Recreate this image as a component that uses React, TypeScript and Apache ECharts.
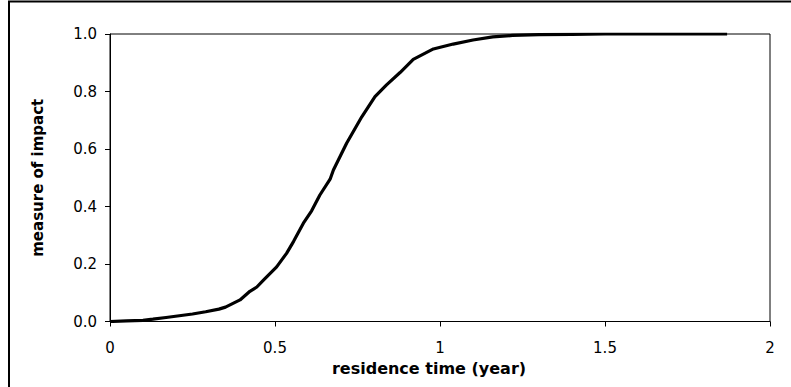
import React, { useEffect, useRef } from "react";
import * as echarts from "echarts";

const residenceTime = [
  0, 0.05, 0.1, 0.13, 0.17, 0.21, 0.25, 0.29, 0.33, 0.35, 0.394, 0.424, 0.445, 0.465,
  0.505, 0.535, 0.556, 0.586, 0.611, 0.636, 0.667, 0.677, 0.717, 0.763, 0.803, 0.838,
  0.879, 0.919, 0.98, 1.04, 1.1, 1.16, 1.22, 1.3, 1.4, 1.5, 1.6, 1.7, 1.87,
];
const impact = [
  0, 0.002, 0.004, 0.008, 0.014, 0.02, 0.026, 0.034, 0.043, 0.05, 0.075, 0.105, 0.12, 0.144,
  0.19, 0.237, 0.278, 0.342, 0.385, 0.44, 0.495, 0.527, 0.62, 0.712, 0.782, 0.823,
  0.866, 0.912, 0.948, 0.965, 0.979, 0.99, 0.995, 0.998, 0.999, 1.0, 1.0, 1.0, 1.0,
];
const xTitle = "residence time (year)";
const yTitle = "measure of impact";

const FONT = "DejaVu Sans, Liberation Sans, Arial, sans-serif";

export default function App() {
  const ref = useRef<HTMLDivElement>(null);
  useEffect(() => {
    if (!ref.current) return;
    const chart = echarts.init(ref.current, null, { renderer: "svg" });
    const data = residenceTime.map((t, i) => [t, impact[i]]);
    chart.setOption({
      animation: false,
      backgroundColor: "#ffffff",
      textStyle: { fontFamily: FONT },
      grid: {
        left: 110,
        top: 34,
        right: 21,
        bottom: 65.5,
        show: true,
        borderColor: "#000",
        borderWidth: 1,
        backgroundColor: "transparent",
      },
      xAxis: {
        type: "value",
        min: 0,
        max: 2,
        interval: 0.5,
        name: xTitle,
        nameLocation: "middle",
        nameGap: 38,
        nameTextStyle: {
          fontWeight: "bold",
          fontSize: 16,
          color: "#000",
          fontFamily: FONT,
          padding: [0, 22, 0, 0],
        },
        axisLine: { show: true, lineStyle: { color: "#000", width: 1 } },
        axisTick: { show: true, length: 5, lineStyle: { color: "#000" } },
        axisLabel: {
          color: "#000",
          fontSize: 15,
          margin: 19,
          fontFamily: FONT,
          formatter: (v: number) => String(v),
        },
        splitLine: { show: false },
      },
      yAxis: {
        type: "value",
        min: 0,
        max: 1,
        interval: 0.2,
        name: yTitle,
        nameLocation: "middle",
        nameGap: 65,
        nameRotate: 90,
        nameTextStyle: {
          fontWeight: "bold",
          fontSize: 15,
          color: "#000",
          fontFamily: FONT,
        },
        axisLine: { show: true, lineStyle: { color: "#000", width: 1 } },
        axisTick: { show: true, length: 5, lineStyle: { color: "#000" } },
        axisLabel: {
          color: "#000",
          fontSize: 15,
          margin: 13,
          fontFamily: FONT,
          formatter: (v: number) => v.toFixed(1),
        },
        splitLine: { show: false },
      },
      graphic: [
        {
          type: "rect",
          shape: { x: 9, y: 1.5, width: 820, height: 420 },
          style: { fill: "none", stroke: "#000", lineWidth: 2 },
          silent: true,
        },
      ],
      series: [
        {
          type: "line",
          data,
          showSymbol: false,
          smooth: false,
          lineStyle: { color: "#000", width: 3.2 },
        },
      ],
    });
    return () => chart.dispose();
  }, []);
  return (
    <div
      ref={ref}
      style={{ position: "absolute", left: 0, top: 0, width: 791, height: 387 }}
    />
  );
}
